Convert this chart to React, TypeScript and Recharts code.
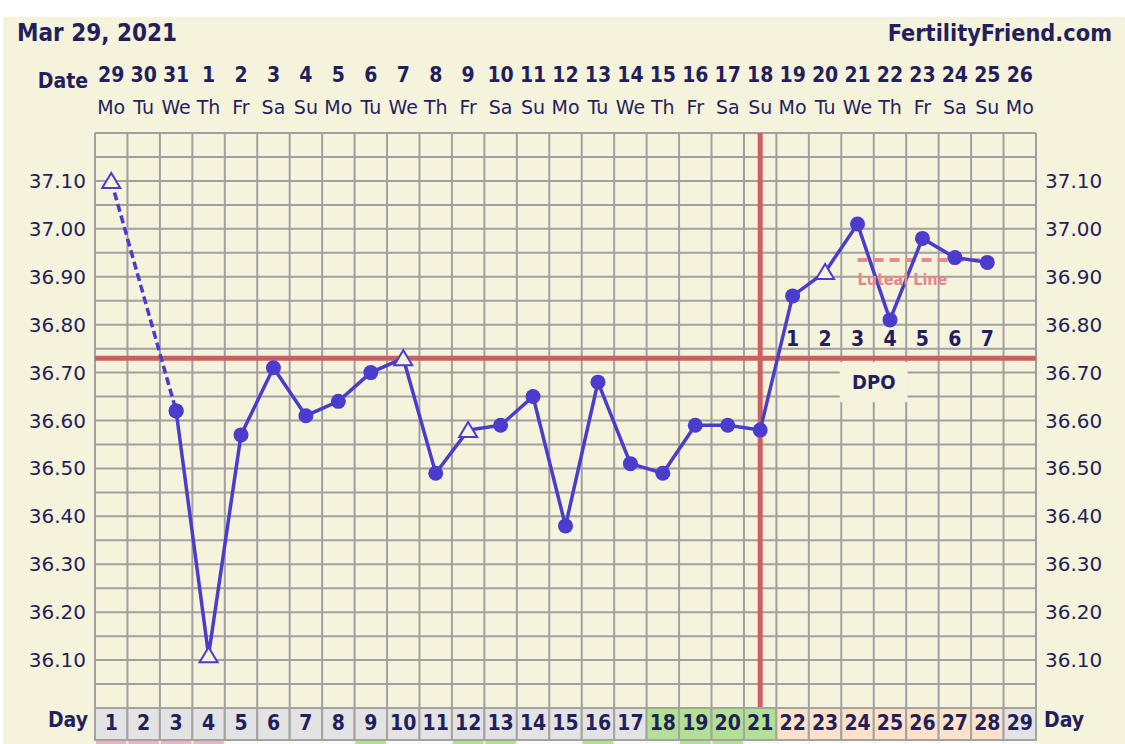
import React from 'react'
import { ComposedChart, Line, XAxis, YAxis, CartesianGrid, ReferenceLine, ReferenceDot } from 'recharts'

const days = [1, 2, 3, 4, 5, 6, 7, 8, 9, 10, 11, 12, 13, 14, 15, 16, 17, 18, 19, 20, 21, 22, 23, 24, 25, 26, 27, 28, 29]
const dates = ['29', '30', '31', '1', '2', '3', '4', '5', '6', '7', '8', '9', '10', '11', '12', '13', '14', '15', '16', '17', '18', '19', '20', '21', '22', '23', '24', '25', '26']
const weekdays = ['Mo', 'Tu', 'We', 'Th', 'Fr', 'Sa', 'Su', 'Mo', 'Tu', 'We', 'Th', 'Fr', 'Sa', 'Su', 'Mo', 'Tu', 'We', 'Th', 'Fr', 'Sa', 'Su', 'Mo', 'Tu', 'We', 'Th', 'Fr', 'Sa', 'Su', 'Mo']
const temps = [37.10, null, 36.62, 36.11, 36.57, 36.71, 36.61, 36.64, 36.70, 36.73, 36.49, 36.58, 36.59, 36.65, 36.38, 36.68, 36.51, 36.49, 36.59, 36.59, 36.58, 36.86, 36.91, 37.01, 36.81, 36.98, 36.94, 36.93, null]
// days drawn with an open triangle instead of a filled dot
const openDays = [1, 4, 10, 12, 23]
// first reading is joined with a dashed line
const dashedDays = [1, 3]

const dayFill = ['#e3e3e3', '#e3e3e3', '#e3e3e3', '#e3e3e3', '#e3e3e3', '#e3e3e3', '#e3e3e3', '#e3e3e3', '#e3e3e3', '#e3e3e3', '#e3e3e3', '#e3e3e3', '#e3e3e3', '#e3e3e3', '#e3e3e3', '#e3e3e3', '#e3e3e3', '#b3e192', '#b3e192', '#b3e192', '#b3e192', '#fbe2c9', '#fbe2c9', '#fbe2c9', '#fbe2c9', '#fbe2c9', '#fbe2c9', '#fbe2c9', '#e3e3e3']
const stripFill = ['#e9b5c6', '#e9b5c6', '#e9b5c6', '#e9b5c6', '#fafafa', '#fafafa', '#fafafa', '#fafafa', '#b3e192', '#fafafa', '#fafafa', '#b3e192', '#b3e192', '#fafafa', '#fafafa', '#b3e192', '#fafafa', '#fafafa', '#b3e192', '#b3e192', '#fafafa', '#fafafa', '#fafafa', '#fafafa', '#fafafa', '#fafafa', '#fafafa', '#fafafa', '#fafafa']

const tempTicks = [36.1, 36.2, 36.3, 36.4, 36.5, 36.6, 36.7, 36.8, 36.9, 37.0, 37.1]
const gridTemps = [36.0, 36.05, 36.1, 36.15, 36.2, 36.25, 36.3, 36.35, 36.4, 36.45, 36.5, 36.55, 36.6, 36.65, 36.7, 36.75, 36.8, 36.85, 36.9, 36.95, 37.0, 37.05, 37.1, 37.15, 37.2]
const gridDays = [0.5, 1.5, 2.5, 3.5, 4.5, 5.5, 6.5, 7.5, 8.5, 9.5, 10.5, 11.5, 12.5, 13.5, 14.5, 15.5, 16.5, 17.5, 18.5, 19.5, 20.5, 21.5, 22.5, 23.5, 24.5, 25.5, 26.5, 27.5, 28.5, 29.5]

const coverline = 36.73
const ovulationDay = 21
const lutealLevel = 36.935
const lutealStart = 24
const lutealEnd = 28
const dpoDays = [22, 23, 24, 25, 26, 27, 28]
const dpoLabels = ['1', '2', '3', '4', '5', '6', '7']

const W = 1125
const H = 744
const MARGIN = { top: 73, right: 29, bottom: 4, left: 35 }
const Y_W = 60
const TOP_H = 60
const BOT_H = 32
const COL_W = (W - MARGIN.left - MARGIN.right - 2 * Y_W) / days.length

const NAVY = '#231f5c'
const BLUE = '#4a3ccc'
const RED = '#cc5f5f'
const CREAM = '#f6f3dc'
const REG = "'DejaVu Sans', Verdana, sans-serif"
const BOLD = "'DejaVu Sans Condensed', 'DejaVu Sans', sans-serif"

const data = days.map((d, i) => ({
  day: d,
  temp: d === dashedDays[0] ? null : temps[i],
  dashed: dashedDays.includes(d) ? temps[i] : null,
}))

const TopTick = ({ x, y, payload }: any) => {
  const i = days.indexOf(payload.value)
  return (
    <g>
      <text x={x} y={y - 58} textAnchor="middle" dominantBaseline="central" fill={NAVY}
        fontFamily={BOLD} fontWeight="bold" fontSize={21}>{dates[i]}</text>
      <text x={x} y={y - 26} textAnchor="middle" dominantBaseline="central" fill={NAVY}
        fontFamily={REG} fontSize={19}>{weekdays[i]}</text>
    </g>
  )
}

const DayTick = ({ x, y, payload }: any) => {
  const i = days.indexOf(payload.value)
  return (
    <g>
      <rect x={x - COL_W / 2} y={y} width={COL_W} height={BOT_H} fill={dayFill[i]} stroke="#a3a3a3" strokeWidth={2} />
      <rect x={x - COL_W / 2 + 1} y={y + BOT_H + 1} width={COL_W - 2} height={6} fill={stripFill[i]} />
      <text x={x} y={y + 15} textAnchor="middle" dominantBaseline="central" fill={NAVY}
        fontFamily={BOLD} fontWeight="bold" fontSize={21}>{payload.value}</text>
    </g>
  )
}

const renderDot = (props: any) => {
  const { cx, cy, payload, key } = props
  const k = key ?? `dot-${payload?.day}`
  if (cx == null || cy == null || !Number.isFinite(cy)) return <g key={k} />
  if (openDays.includes(payload.day)) {
    return (
      <polygon key={k} points={`${cx},${cy - 8} ${cx - 9},${cy + 7} ${cx + 9},${cy + 7}`}
        fill={CREAM} stroke={BLUE} strokeWidth={2} />
    )
  }
  return <circle key={k} cx={cx} cy={cy} r={7.5} fill={BLUE} />
}

const tempTick = (anchor: 'start' | 'end') => ({ x, y, payload }: any) => (
  <text x={x} y={y} textAnchor={anchor} dominantBaseline="central" fill={NAVY}
    fontFamily={REG} fontSize={20}>{Number(payload.value).toFixed(2)}</text>
)

export default function App() {
  return (
    <div style={{ position: 'absolute', left: 0, top: 0, width: W, height: H, background: '#fff', overflow: 'hidden' }}>
      <div style={{ position: 'absolute', left: 3, top: 17, right: 0, bottom: 0, background: CREAM }} />
      <div style={{ position: 'absolute', left: 17, top: 19, fontFamily: BOLD, fontWeight: 'bold', fontSize: 24, color: NAVY }}>
        Mar 29, 2021
      </div>
      <div style={{ position: 'absolute', right: 13, top: 19, fontFamily: BOLD, fontWeight: 'bold', fontSize: 23.3, color: NAVY }}>
        FertilityFriend.com
      </div>
      <div style={{ position: 'absolute', right: 1125 - 88, top: 69, fontFamily: BOLD, fontWeight: 'bold', fontSize: 21, color: NAVY }}>
        Date
      </div>
      <div style={{ position: 'absolute', right: 1125 - 88, top: 708, fontFamily: BOLD, fontWeight: 'bold', fontSize: 21, color: NAVY }}>
        Day
      </div>
      <div style={{ position: 'absolute', left: 1044, top: 708, fontFamily: BOLD, fontWeight: 'bold', fontSize: 21, color: NAVY }}>
        Day
      </div>
      <div style={{ position: 'absolute', left: 0, top: 0 }}>
        <ComposedChart width={W} height={H} data={data} margin={MARGIN}>
          <CartesianGrid stroke="#a0a0a0" strokeWidth={2} fill="none"
            verticalValues={gridDays} horizontalValues={gridTemps} />
          <XAxis xAxisId="top" orientation="top" type="number" dataKey="day" domain={[0.5, 29.5]}
            ticks={days} interval={0} height={TOP_H} axisLine={false} tickLine={false}
            tickSize={0} tickMargin={0} tick={<TopTick />} allowDataOverflow />
          <XAxis type="number" dataKey="day" domain={[0.5, 29.5]} ticks={days} interval={0}
            height={BOT_H} axisLine={false} tickLine={false} tickSize={0} tickMargin={0}
            tick={<DayTick />} allowDataOverflow />
          <YAxis type="number" domain={[36.0, 37.2]} ticks={tempTicks} interval={0} width={Y_W}
            axisLine={false} tickLine={false} tickSize={0} tickMargin={9} tick={tempTick('end')} allowDataOverflow />
          <YAxis yAxisId="right" orientation="right" type="number" domain={[36.0, 37.2]} ticks={tempTicks}
            interval={0} width={Y_W} axisLine={false} tickLine={false} tickSize={0} tickMargin={9}
            tick={tempTick('start')} allowDataOverflow />
          <ReferenceLine y={coverline} stroke={RED} strokeWidth={5} />
          <ReferenceLine x={ovulationDay} stroke={RED} strokeWidth={5} />
          <ReferenceLine segment={[{ x: lutealStart, y: lutealLevel }, { x: lutealEnd, y: lutealLevel }]}
            stroke="#e88a8a" strokeWidth={4} strokeDasharray="10 6" />
          <ReferenceDot x={lutealStart} y={36.895} r={0} shape={(p: any) => (
            <text x={p.cx} y={p.cy} dominantBaseline="central" fill="#e88585" fontFamily={BOLD}
              fontWeight="bold" fontSize={16}>Luteal Line</text>
          )} />
          {dpoDays.map((d, i) => (
            <ReferenceDot key={d} x={d} y={36.77} r={0} shape={(p: any) => (
              <text x={p.cx} y={p.cy} textAnchor="middle" dominantBaseline="central" fill={NAVY}
                fontFamily={BOLD} fontWeight="bold" fontSize={21}>{dpoLabels[i]}</text>
            )} />
          ))}
          <ReferenceDot x={24.5} y={36.68} r={0} shape={(p: any) => (
            <g>
              <rect x={p.cx - 34} y={p.cy - 20} width={68} height={40} fill={CREAM} />
              <text x={p.cx} y={p.cy} textAnchor="middle" dominantBaseline="central" fill={NAVY}
                fontFamily={BOLD} fontWeight="bold" fontSize={20}>DPO</text>
            </g>
          )} />
          <Line dataKey="dashed" stroke={BLUE} strokeWidth={3.5} strokeDasharray="8 4" connectNulls
            dot={renderDot} activeDot={false} isAnimationActive={false} />
          <Line dataKey="temp" stroke={BLUE} strokeWidth={3.5} dot={renderDot} activeDot={false}
            isAnimationActive={false} />
        </ComposedChart>
      </div>
    </div>
  )
}
